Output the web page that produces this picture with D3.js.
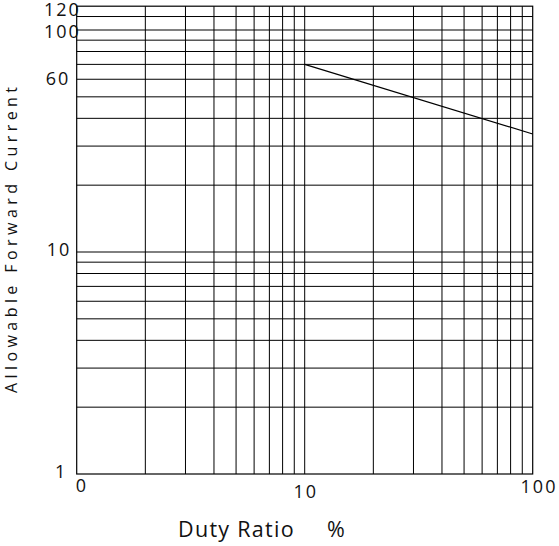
<!DOCTYPE html>
<html>
<head>
<meta charset="utf-8">
<script src="https://cdn.jsdelivr.net/npm/d3@7"></script>
<style>
  html, body { margin: 0; padding: 0; background: #fff; }
  svg { display: block; }
  text { font-family: "Open Sans", "DejaVu Sans", sans-serif; fill: #111; }
</style>
</head>
<body>
<svg id="chart" width="559" height="546"></svg>
<script>
// ---- data ----
const dutyRatio = [10, 100];          // %
const forwardCurrent = [70, 34];      // allowable forward current
const xDomain = [1, 100];
const yDomain = [1, 128];
const xGridValues = [2, 3, 4, 5, 6, 7, 8, 9, 10, 20, 30, 40, 50, 60, 70, 80, 90];
const yGridValues = [2, 3, 4, 5, 6, 7, 8, 9, 10, 20, 30, 40, 50, 60, 70, 80, 90, 100, 115];
const xTickValues = [1, 10, 100];
const xTickLabels = ["0", "10", "100"];
const yTickValues = [1, 10, 60, 100, 128];
const yTickLabels = ["1", "10", "60", "100", "120"];
const xTitle = "Duty Ratio";
const xUnit = "%";
const yTitle = "Allowable Forward Current";

// ---- layout ----
const svg = d3.select("#chart");
const pLeft = 76.7, pRight = 532.7, pTop = 6.2, pBottom = 474;
const x = d3.scaleLog().domain(xDomain).range([pLeft, pRight]);
const y = d3.scaleLog().domain(yDomain).range([pBottom, pTop]);

const g = svg.append("g");

// grid
g.selectAll(".vgrid").data(xGridValues).enter().append("line")
  .attr("x1", d => x(d)).attr("x2", d => x(d))
  .attr("y1", pTop).attr("y2", pBottom)
  .attr("stroke", "#000").attr("stroke-width", 1);
g.selectAll(".hgrid").data(yGridValues).enter().append("line")
  .attr("x1", pLeft).attr("x2", pRight)
  .attr("y1", d => y(d)).attr("y2", d => y(d))
  .attr("stroke", "#000").attr("stroke-width", 1);

// frame
g.append("rect")
  .attr("x", pLeft).attr("y", pTop)
  .attr("width", pRight - pLeft).attr("height", pBottom - pTop)
  .attr("fill", "none").attr("stroke", "#000").attr("stroke-width", 1.2);

// data line
const line = d3.line().x(d => x(d[0])).y(d => y(d[1]));
g.append("path")
  .datum(dutyRatio.map((d, i) => [d, forwardCurrent[i]]))
  .attr("d", line)
  .attr("fill", "none").attr("stroke", "#000").attr("stroke-width", 1.2);

// y tick labels
const yLabelX = [55, 46.7, 45.7, 44, 44];
const yLabelDy = [4.3, 3.7, 5.8, 8, 9.3];
g.selectAll(".ylab").data(yTickValues).enter().append("text")
  .attr("x", (d, i) => yLabelX[i])
  .attr("y", (d, i) => y(d) + yLabelDy[i])
  .attr("font-size", 18)
  .attr("letter-spacing", 2)
  .text((d, i) => yTickLabels[i]);

// x tick labels
const xLabelDx = [5.3, 1, 6.3];
const xLabelY = [491.7, 498.3, 492.7];
g.selectAll(".xlab").data(xTickValues).enter().append("text")
  .attr("x", (d, i) => x(d) + xLabelDx[i])
  .attr("y", (d, i) => xLabelY[i])
  .attr("text-anchor", "middle")
  .attr("font-size", 18)
  .attr("letter-spacing", 2)
  .text((d, i) => xTickLabels[i]);

// axis titles
const xt = svg.append("text")
  .attr("x", 178).attr("y", 536.5)
  .attr("font-size", 21.5)
  .attr("letter-spacing", 1.3);
xt.append("tspan").text(xTitle);
xt.append("tspan").attr("x", 327).text(xUnit);

svg.append("text")
  .attr("transform", "translate(17,240) rotate(-90)")
  .attr("text-anchor", "middle")
  .attr("font-size", 16)
  .attr("textLength", 306)
  .attr("lengthAdjust", "spacing")
  .text(yTitle);
</script>
</body>
</html>
